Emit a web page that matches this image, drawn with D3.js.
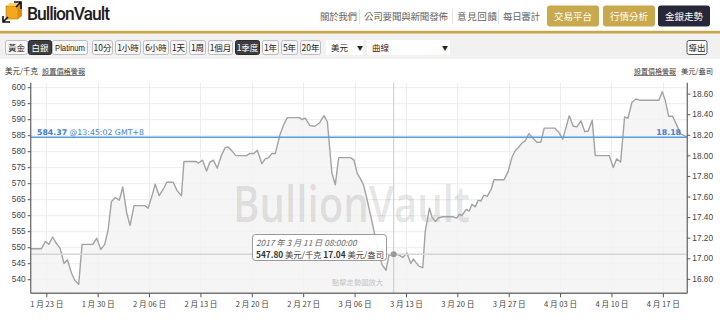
<!DOCTYPE html>
<html><head><meta charset="utf-8">
<script src="https://cdn.jsdelivr.net/npm/d3@7"></script>
<style>
body{margin:0;background:#fff;}
svg{display:block;font-family:"Noto Sans CJK TC","Liberation Sans",sans-serif;}
</style></head>
<body>
<svg id="c" width="720" height="335"></svg>
<script>
// ---------- DATA ----------
const times = ["01-20 21","01-22 08","01-22 21","01-23 08","01-23 21","01-24 08","01-24 21","01-25 10","01-25 21","01-26 10","01-26 21","01-27 10","01-27 21","01-29 08","01-29 21","01-30 10","01-30 23","01-31 10","01-31 21","02-01 10","02-01 23","02-02 10","02-02 23","02-03 10","02-03 23","02-05 10","02-05 21","02-06 08","02-06 20","02-07 09","02-07 23","02-08 10","02-09 07","02-09 20","02-10 10","02-10 18","02-12 09","02-12 18","02-13 07","02-13 20","02-14 07","02-14 18","02-15 07","02-15 20","02-16 09","02-16 18","02-17 07","02-17 20","02-19 07","02-19 18","02-20 07","02-20 18","02-21 09","02-21 20","02-22 07","02-22 18","02-23 05","02-23 20","02-24 09","02-24 20","02-26 11","02-26 20","02-27 07","02-27 22","02-28 14","03-01 05","03-01 20","03-02 07","03-02 22","03-03 09","03-03 20","03-05 11","03-05 22","03-06 09","03-06 18","03-07 05","03-07 16","03-08 09","03-09 01","03-09 18","03-10 07","03-10 16","03-11 08","03-12 00","03-12 14","03-13 03","03-13 16","03-14 00","03-14 18","03-15 07","03-15 15","03-16 05","03-16 13","03-17 00","03-17 11","03-18 00","03-19 11","03-19 22","03-20 07","03-20 15","03-21 05","03-21 15","03-22 00","03-22 11","03-22 20","03-23 05","03-23 15","03-24 02","03-24 15","03-25 00","03-26 09","03-26 22","03-27 11","03-27 22","03-28 09","03-28 20","03-29 06","03-29 18","03-30 07","03-30 20","03-31 09","03-31 20","04-02 07","04-02 20","04-03 09","04-03 20","04-04 06","04-04 19","04-05 07","04-05 20","04-06 09","04-06 20","04-07 09","04-07 19","04-09 17","04-10 06","04-10 17","04-11 06","04-11 19","04-12 06","04-12 19","04-13 08","04-13 22","04-16 11","04-16 22","04-17 08","04-17 19","04-18 08","04-18 22","04-19 11","04-20 08"];
const prices = [549.5,549.5,551.8,550.9,553.2,551.3,549.7,544.9,546.1,542.0,539.7,538.4,550.9,550.9,552.8,549.3,550.9,555.3,564.3,565.5,564.7,568.8,560.7,556.8,563.0,563.0,562.2,565.5,569.7,566.1,568.2,570.3,570.3,567.6,566.1,576.8,576.8,576.3,577.2,573.8,576.6,577.2,574.7,578.6,581.1,581.3,580.1,578.6,578.6,579.3,579.3,580.3,576.1,577.6,578.0,579.3,579.3,585.1,588.4,590.5,590.5,589.9,590.3,588.0,587.8,588.8,591.1,589.2,573.2,569.5,578.0,578.0,577.2,573.0,571.6,569.5,565.3,558.0,550.7,544.5,542.8,547.4,547.8,547.6,546.8,548.2,544.9,546.3,544.1,543.6,554.9,562.2,559.5,558.0,559.2,559.5,559.5,559.1,560.3,559.9,561.8,561.3,563.4,562.6,564.7,564.4,566.3,565.9,568.2,571.1,571.1,573.6,578.2,580.3,581.3,582.6,583.2,585.5,584.1,582.8,582.8,587.2,587.2,585.9,583.8,587.6,591.1,587.8,587.6,589.5,586.1,586.3,589.7,578.6,578.6,574.9,577.6,576.6,590.7,590.3,595.3,596.3,595.9,595.9,598.6,595.9,590.9,590.9,588.0,585.3,584.4];
const leftTicks = [540,545,550,555,560,565,570,575,580,585,590,595,600];
const rightTicks = [16.8,17.0,17.2,17.4,17.6,17.8,18.0,18.2,18.4,18.6];
const yDomain = [535.6, 601.4];
const gramsRatio = 32.15;         // 美元/千克 -> 美元/盎司
const current = {kg: 584.37, oz: 18.18, time: "13:45:02 GMT+8"};
const hover = {time: "03-11 08", label: "2017 年 3 月 11 日 08:00:00", kg: "547.80", oz: "17.04"};
const metals = ["黃金","白銀","Platinum"];
const periods = ["10分","1小時","6小時","1天","1周","1個月","1季度","1年","5年","20年"];
const navLinks = ["關於我們","公司要聞與新聞發佈","意見回饋","每日審計"];
const navButtons = ["交易平台","行情分析","金銀走勢"];

// ---------- SETUP ----------
const parse = d3.timeParse("%Y-%m-%d %H");
const data = times.map((t,i)=>({t:parse("2017-"+t), v:prices[i]}));
const svg = d3.select("#c");
const M = {l:30.7, r:687.3, t:82.7, b:293.3};
const x = d3.scaleTime().domain(d3.extent(data,d=>d.t)).range([M.l, M.r]);
const y = d3.scaleLinear().domain(yDomain).range([M.b, M.t]);
const y2 = d3.scaleLinear().domain(yDomain.map(v=>v/gramsRatio)).range([M.b, M.t]);
const cjk = '"Noto Sans CJK TC",sans-serif';

// ---------- HEADER ----------
const hdr = svg.append("g");
const logo = hdr.append("g");
logo.append("rect").attr("x",6).attr("y",6).attr("width",12).attr("height",13).attr("fill","#f3a81d").attr("stroke","#b77a00").attr("stroke-width",0.6);
logo.append("path").attr("d","M6,6 L10,3 L22,3 L18,6 Z").attr("fill","#fcd066");
logo.append("path").attr("d","M18,6 L22,3 L22,16 L18,19 Z").attr("fill","#d98e0c");
logo.append("path").attr("d","M14,2 L21,2 L21,9 M21,2 L16,7").attr("fill","none").attr("stroke","#111").attr("stroke-width",1.6);
logo.append("path").attr("d","M3,16 L3,22 L10,22 M3,22 L8,17").attr("fill","none").attr("stroke","#111").attr("stroke-width",1.6);
hdr.append("text").attr("x",27).attr("y",20).attr("font-family","Roboto,sans-serif").attr("font-weight",500)
  .attr("font-size",17.5).attr("fill","#1d1d1d").attr("textLength",83).text("BullionVault");
const navX = [320,364,457,503], navW=[37,84,40,37];
navLinks.forEach((s,i)=>{
  hdr.append("text").attr("x",navX[i]).attr("y",20).attr("font-family",cjk).attr("font-size",9.5)
    .attr("fill","#666").attr("textLength",navW[i]).text(s);
  if(i>0) hdr.append("line").attr("x1",navX[i]-4.5).attr("x2",navX[i]-4.5).attr("y1",9).attr("y2",24).attr("stroke","#e2e2e2");
});
const btnX=[547,603,658], btnCol=["#c9a94d","#c9a94d","#262738"];
navButtons.forEach((s,i)=>{
  hdr.append("rect").attr("x",btnX[i]).attr("y",5.5).attr("width",52).attr("height",21).attr("rx",3).attr("fill",btnCol[i]);
  hdr.append("text").attr("x",btnX[i]+26).attr("y",20).attr("text-anchor","middle").attr("font-family",cjk)
    .attr("font-size",9.5).attr("fill","#fff").text(s);
});
hdr.append("rect").attr("x",0).attr("y",30.8).attr("width",720).attr("height",2.8).attr("fill","#c8a64c");
// toolbar
svg.append("rect").attr("x",0).attr("y",34).attr("width",720).attr("height",25).attr("fill","#f1f1f1");
const tb = svg.append("g");
function tbButton(x0,w,label,sel,latin){
  tb.append("rect").attr("x",x0+0.5).attr("y",40.5).attr("width",w).attr("height",14).attr("rx",2)
    .attr("fill",sel?"#3d3d3d":"#f7f7f7").attr("stroke",sel?"#2a2a2a":"#bdbdbd");
  const t = tb.append("text").attr("x",x0+0.5+w/2).attr("y",51).attr("text-anchor","middle")
    .attr("font-family",latin?'"Liberation Sans",Arial,sans-serif':cjk).attr("font-size",latin?8.6:8.5)
    .attr("fill",sel?"#fff":"#222").text(label);
  if(latin) t.attr("textLength",w-5).attr("lengthAdjust","spacingAndGlyphs");
}
const mX=[5,28,52], mW=[22,23,35];
metals.forEach((s,i)=>tbButton(mX[i],mW[i],s,i===1,s==="Platinum"));
const pX=[92,115,143,170,189,208,235,262,281,300], pW=[20,25,25,16,16,24,24,16,16,20];
periods.forEach((s,i)=>tbButton(pX[i],pW[i],s,i===6,false));
tb.append("rect").attr("x",326).attr("y",40).attr("width",37).attr("height",15).attr("fill","#fff");
tb.append("text").attr("x",331).attr("y",51).attr("font-family",cjk).attr("font-size",8.5).attr("fill","#222").text("美元");
tb.append("text").attr("x",357).attr("y",50).attr("font-size",6).attr("fill","#222").text("▼");
tb.append("rect").attr("x",367).attr("y",40).attr("width",83).attr("height",15).attr("fill","#fff");
tb.append("text").attr("x",372).attr("y",51).attr("font-family",cjk).attr("font-size",8.5).attr("fill","#4a1a1a").text("曲線");
tb.append("text").attr("x",442).attr("y",50).attr("font-size",6).attr("fill","#222").text("▼");
tb.append("rect").attr("x",687).attr("y",40.5).attr("width",20).attr("height",14).attr("rx",2).attr("fill","#fff").attr("stroke","#555");
tb.append("text").attr("x",697).attr("y",51).attr("text-anchor","middle").attr("font-family",cjk).attr("font-size",8.5).attr("fill","#222").text("導出");

// axis titles
svg.append("text").attr("x",5).attr("y",74).attr("font-family",cjk).attr("font-size",7.5).attr("fill","#333").text("美元/千克");
svg.append("text").attr("x",42).attr("y",74).attr("font-family",cjk).attr("font-size",7.2).attr("fill","#444").attr("text-decoration","underline").text("設置價格警報");
svg.append("text").attr("x",634).attr("y",74).attr("font-family",cjk).attr("font-size",7).attr("fill","#444").attr("text-decoration","underline").text("設置價格警報");
svg.append("text").attr("x",681).attr("y",74).attr("font-family",cjk).attr("font-size",7.3).attr("fill","#333").text("美元/盎司");

// ---------- PLOT ----------
const weeks = d3.timeMonday.range(x.domain()[0], x.domain()[1]);
const g = svg.append("g");
g.selectAll(".hg").data(leftTicks).join("line").attr("x1",M.l).attr("x2",M.r)
  .attr("y1",d=>y(d)+0.5).attr("y2",d=>y(d)+0.5).attr("stroke","#ececec");
g.selectAll(".vg").data(weeks).join("line").attr("y1",M.t).attr("y2",M.b)
  .attr("x1",d=>Math.round(x(d))+0.5).attr("x2",d=>Math.round(x(d))+0.5).attr("stroke","#ececec");
g.append("path").datum(data).attr("fill","#f3f3f3").attr("fill-opacity",0.85)
  .attr("d",d3.area().x(d=>x(d.t)).y0(M.b).y1(d=>y(d.v)));
g.append("text").attr("x",233).attr("y",222).attr("font-family","'Open Sans',sans-serif").attr("font-weight",600)
  .attr("font-size",51).attr("fill","#000").attr("fill-opacity",0.11).attr("textLength",237)
  .attr("lengthAdjust","spacingAndGlyphs").text("BullionVault");
g.append("path").datum(data).attr("fill","none").attr("stroke","#a3a3a3").attr("stroke-width",1.4)
  .attr("stroke-linejoin","round").attr("d",d3.line().x(d=>x(d.t)).y(d=>y(d.v)));
const hp = data.find(d=>+d.t===+parse("2017-"+hover.time));
g.append("line").attr("x1",x(hp.t)).attr("x2",x(hp.t)).attr("y1",M.t).attr("y2",M.b).attr("stroke","#c9c9c9");
g.append("line").attr("x1",M.l).attr("x2",M.r).attr("y1",y(+hover.kg)).attr("y2",y(+hover.kg)).attr("stroke","#d6d6d6").attr("stroke-width",1.4);
g.append("circle").attr("cx",x(hp.t)).attr("cy",y(+hover.kg)).attr("r",3).attr("fill","#9b9b9b");
g.append("line").attr("x1",M.l).attr("x2",M.r).attr("y1",y(current.kg)).attr("y2",y(current.kg)).attr("stroke","#5b9be0").attr("stroke-width",1.6);
const cl = g.append("text").attr("x",37).attr("y",y(current.kg)-2.5).attr("font-family","'DejaVu Sans',sans-serif").attr("font-size",7.8).attr("fill","#3f7fd0");
cl.append("tspan").attr("font-weight",700).text(current.kg.toFixed(2));
cl.append("tspan").text(" @"+current.time);
g.append("text").attr("x",681).attr("y",y(current.kg)-2.5).attr("text-anchor","end").attr("font-family","'DejaVu Sans',sans-serif")
  .attr("font-size",7.8).attr("font-weight",700).attr("fill","#3f7fd0").text(current.oz.toFixed(2));

// axes
const fmtDate = d3.timeFormat("%-m 月 %d 日");
const axL = svg.append("g").attr("transform",`translate(${M.l},0)`)
  .call(d3.axisLeft(y).tickValues(leftTicks).tickSize(3).tickPadding(2).tickFormat(d3.format("d")));
const axR = svg.append("g").attr("transform",`translate(${M.r},0)`)
  .call(d3.axisRight(y2).tickValues(rightTicks).tickSize(3).tickPadding(2).tickFormat(d3.format(".2f")));
const axB = svg.append("g").attr("transform",`translate(0,${M.b})`)
  .call(d3.axisBottom(x).tickValues(weeks).tickSize(4).tickPadding(4).tickFormat(fmtDate));
[axL,axR,axB].forEach(a=>{
  a.select(".domain").attr("stroke","#777").attr("stroke-width",1.4);
  a.selectAll(".tick line").attr("stroke","#555");
  a.selectAll("text").attr("fill","#444").attr("font-family",'"Liberation Sans","Noto Sans CJK TC",sans-serif').attr("font-size",8.3);
});
axB.selectAll("text").attr("font-family",'"Noto Sans CJK TC",sans-serif').attr("font-size",7.6);
axL.select(".domain").attr("d",`M0,${M.t}V${M.b}`);
axR.select(".domain").attr("d",`M0,${M.t}V${M.b}`);
axB.select(".domain").attr("d",`M${M.l},0H${M.r}`);

// tooltip
const tt = svg.append("g");
tt.append("rect").attr("x",252.5).attr("y",234.5).attr("width",134).attr("height",26).attr("rx",3)
  .attr("fill","#fff").attr("fill-opacity",0.9).attr("stroke","#9a9a9a");
tt.append("text").attr("x",256).attr("y",246).attr("font-family",cjk).attr("font-style","italic").attr("font-size",8.3).attr("fill","#666").text(hover.label);
const t2 = tt.append("text").attr("x",256).attr("y",258).attr("font-family",cjk).attr("font-size",8.3).attr("fill","#444");
t2.append("tspan").attr("font-weight",700).attr("fill","#333").text(hover.kg);
t2.append("tspan").text(" 美元/千克  ");
t2.append("tspan").attr("font-weight",700).attr("fill","#333").text(hover.oz);
t2.append("tspan").text(" 美元/盎司");
svg.append("text").attr("x",332).attr("y",285).attr("font-family",cjk).attr("font-size",7.3).attr("fill","#c4c4c4").text("點擊走勢圖放大");
</script>
</body></html>
